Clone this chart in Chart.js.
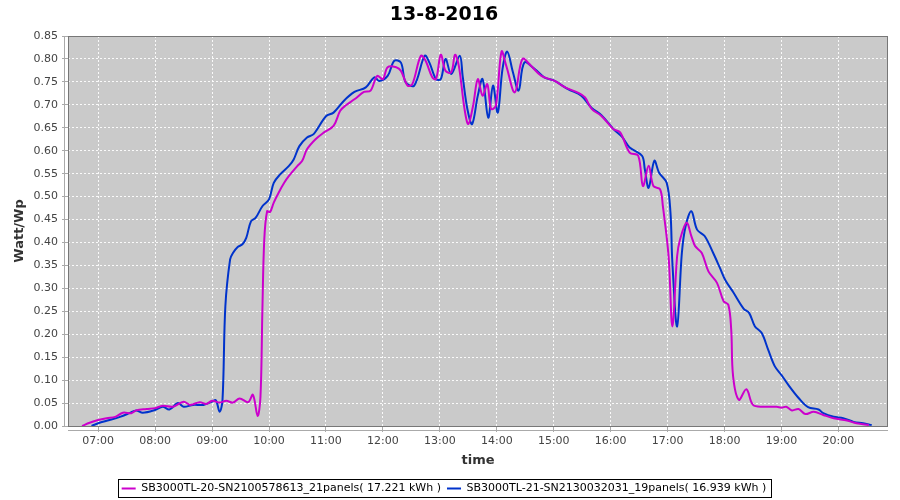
<!DOCTYPE html>
<html><head><meta charset="utf-8">
<script src="https://cdn.jsdelivr.net/npm/chart.js@4"></script>
<style>html,body{margin:0;padding:0;background:#fff}#wrap{width:900px;height:500px}</style>
</head><body><div id="wrap"><canvas id="c" width="900" height="500"></canvas></div>
<script>
const chartTitle = '13-8-2016';
const xTitle = 'time';
const yTitle = 'Watt/Wp';
const seriesNames = [
  'SB3000TL-20-SN2100578613_21panels( 17.221 kWh )',
  'SB3000TL-21-SN2130032031_19panels( 16.939 kWh )'
];
const seriesColors = ['#cc00cc', '#0033cc'];
const hourTicks = [7,8,9,10,11,12,13,14,15,16,17,18,19,20];
const yTickValues = [0,0.05,0.10,0.15,0.20,0.25,0.30,0.35,0.40,0.45,0.50,0.55,0.60,0.65,0.70,0.75,0.80,0.85];

const s1Times = ['06:43','06:51','07:00','07:09','07:18','07:26','07:35','07:40','07:51','08:00','08:08','08:19','08:30','08:37','08:47','08:54','09:00','09:08','09:15','09:22','09:29','09:38','09:43','09:48','09:51','09:53','09:55','09:58','10:01','10:05','10:10','10:16','10:21','10:30','10:35','10:40','10:49','10:58','11:08','11:15','11:21','11:30','11:40','11:47','11:54','12:00','12:05','12:14','12:19','12:26','12:31','12:40','12:45','12:52','12:56','13:01','13:06','13:12','13:16','13:20','13:26','13:30','13:35','13:40','13:45','13:50','13:54','13:59','14:05','14:10','14:19','14:27','14:36','14:47','15:01','15:12','15:26','15:33','15:40','15:50','16:03','16:10','16:20','16:29','16:34','16:40','16:45','16:52','16:55','17:01','17:05','17:10','17:13','17:20','17:25','17:29','17:36','17:43','17:52','17:59','18:04','18:07','18:09','18:15','18:23','18:30','18:41','18:55','19:00','19:05','19:11','19:18','19:25','19:34','19:44','19:55','20:09','20:19','20:32'];
const s1Values = [0.000,0.007,0.013,0.017,0.020,0.029,0.028,0.034,0.037,0.039,0.044,0.042,0.053,0.046,0.052,0.048,0.055,0.051,0.055,0.051,0.060,0.052,0.068,0.022,0.064,0.250,0.406,0.468,0.466,0.487,0.508,0.530,0.545,0.567,0.578,0.603,0.625,0.640,0.654,0.687,0.699,0.712,0.728,0.731,0.763,0.756,0.782,0.782,0.774,0.742,0.745,0.807,0.796,0.760,0.756,0.809,0.774,0.771,0.809,0.785,0.691,0.658,0.698,0.756,0.720,0.745,0.691,0.698,0.816,0.785,0.727,0.800,0.785,0.763,0.752,0.738,0.726,0.716,0.691,0.676,0.647,0.640,0.596,0.589,0.523,0.567,0.523,0.516,0.479,0.370,0.217,0.370,0.406,0.443,0.414,0.392,0.377,0.337,0.312,0.272,0.264,0.210,0.108,0.057,0.080,0.046,0.042,0.042,0.040,0.042,0.034,0.037,0.026,0.031,0.024,0.017,0.012,0.006,0.002];

const s2Times = ['06:53','07:00','07:12','07:23','07:33','07:40','07:47','08:00','08:08','08:15','08:24','08:30','08:40','08:51','09:00','09:04','09:08','09:11','09:14','09:19','09:22','09:27','09:32','09:36','09:41','09:46','09:53','10:00','10:05','10:12','10:21','10:26','10:32','10:40','10:47','11:00','11:08','11:19','11:30','11:42','11:51','11:56','12:05','12:12','12:19','12:24','12:33','12:44','12:49','12:56','13:01','13:06','13:12','13:21','13:24','13:29','13:34','13:40','13:45','13:51','13:56','14:01','14:06','14:11','14:17','14:23','14:29','14:40','14:50','15:01','15:15','15:29','15:40','15:50','16:03','16:12','16:20','16:33','16:36','16:40','16:46','16:51','16:59','17:03','17:05','17:10','17:15','17:19','17:25','17:31','17:39','17:48','17:55','18:01','18:09','18:20','18:26','18:32','18:39','18:46','18:53','19:00','19:07','19:18','19:28','19:39','19:44','19:55','20:05','20:16','20:26','20:35'];
const s2Values = [0.000,0.006,0.013,0.020,0.028,0.034,0.029,0.035,0.042,0.036,0.050,0.042,0.046,0.046,0.053,0.056,0.031,0.057,0.261,0.363,0.377,0.390,0.396,0.410,0.446,0.454,0.479,0.494,0.530,0.549,0.567,0.581,0.610,0.629,0.636,0.675,0.683,0.709,0.728,0.738,0.760,0.752,0.763,0.796,0.792,0.749,0.742,0.807,0.792,0.756,0.756,0.800,0.767,0.807,0.763,0.691,0.658,0.720,0.756,0.672,0.742,0.683,0.778,0.816,0.771,0.731,0.792,0.778,0.760,0.752,0.734,0.720,0.693,0.678,0.647,0.630,0.607,0.589,0.559,0.519,0.578,0.552,0.530,0.465,0.356,0.217,0.377,0.436,0.468,0.428,0.414,0.377,0.345,0.317,0.292,0.256,0.246,0.217,0.203,0.166,0.130,0.111,0.090,0.061,0.041,0.036,0.028,0.020,0.017,0.009,0.006,0.002];

function toHours(s){ const p = s.split(':'); return +p[0] + (+p[1])/60; }
function pts(times, vals){ return times.map((t,i)=>({x: toHours(t), y: vals[i]})); }

const FONT = "'DejaVu Sans', sans-serif";

const framePlugin = {
  id: 'frame',
  beforeDraw(chart){
    const {ctx, chartArea:a} = chart;
    ctx.save();
    ctx.fillStyle = '#cacaca';
    ctx.fillRect(a.left, a.top, a.right - a.left, a.bottom - a.top);
    ctx.restore();
  },
  beforeDatasetsDraw(chart){
    const {ctx, chartArea:a} = chart;
    ctx.save();
    ctx.strokeStyle = '#777';
    ctx.lineWidth = 1;
    ctx.strokeRect(a.left + 0.5, a.top + 0.5, a.right - a.left - 1, a.bottom - a.top);
    ctx.strokeStyle = '#aaa';
    ctx.beginPath();
    ctx.moveTo(a.left - 3.5, a.top); ctx.lineTo(a.left - 3.5, a.bottom);
    ctx.moveTo(a.left, a.bottom + 4.5); ctx.lineTo(a.right, a.bottom + 4.5);
    ctx.stroke();
    ctx.restore();
  },
  afterDraw(chart){
    const lg = chart.legend;
    const hb = lg && lg.legendHitBoxes;
    if (!hb || !hb.length) return;
    const l = Math.min(...hb.map(b=>b.left));
    const r = Math.max(...hb.map(b=>b.left + b.width));
    const t = Math.min(...hb.map(b=>b.top));
    const bt = Math.max(...hb.map(b=>b.top + b.height));
    const ctx = chart.ctx;
    ctx.save();
    ctx.strokeStyle = '#000';
    ctx.lineWidth = 1;
    ctx.strokeRect(Math.round(l - 4) + 0.5, Math.round(t - 4) + 0.5, Math.round(r - l + 8), Math.round(bt - t + 7));
    ctx.restore();
  }
};

const gridOpts = { color: 'rgba(255,255,255,0.9)', lineWidth: 1, tickLength: 6, tickColor: '#aaa', tickBorderDash: [] };

new Chart(document.getElementById('c'), {
  type: 'line',
  data: {
    datasets: [
      { label: seriesNames[0], data: pts(s1Times, s1Values), borderColor: seriesColors[0], backgroundColor: seriesColors[0], borderWidth: 2, pointRadius: 0, tension: 0.35, fill: false },
      { label: seriesNames[1], data: pts(s2Times, s2Values), borderColor: seriesColors[1], backgroundColor: seriesColors[1], borderWidth: 2, pointRadius: 0, tension: 0.35, fill: false }
    ]
  },
  options: {
    responsive: false,
    animation: false,
    devicePixelRatio: 1,
    layout: { padding: { top: 0, right: 12, bottom: -4, left: 0 } },
    plugins: {
      title: { display: true, text: chartTitle, color: '#000', font: { family: FONT, size: 19, weight: 'bold' }, padding: { top: 3.5, bottom: 9.7 } },
      legend: { position: 'bottom', labels: { font: { family: FONT, size: 11 }, color: '#000', usePointStyle: true, pointStyle: 'line', pointStyleWidth: 14, padding: 6 } },
      tooltip: { enabled: false }
    },
    scales: {
      x: {
        type: 'linear', min: 6.47, max: 20.87,
        afterBuildTicks: s => { s.ticks = hourTicks.map(v => ({ value: v })); },
        afterFit: s => { s.height = 51; },
        ticks: { autoSkip: false, maxRotation: 0, padding: 3, color: '#444', font: { family: FONT, size: 11 }, callback: v => String(v).padStart(2,'0') + ':00' },
        grid: gridOpts,
        border: { display: false, dash: [2,2] },
        title: { display: true, text: xTitle, color: '#333', font: { family: FONT, size: 13, weight: 'bold' }, padding: { top: 9, bottom: 9 } }
      },
      y: {
        type: 'linear', min: 0, max: 0.85,
        afterBuildTicks: s => { s.ticks = yTickValues.map(v => ({ value: v })); },
        afterFit: s => { s.width = 68; },
        ticks: { padding: 4, color: '#444', font: { family: FONT, size: 11 }, callback: v => v.toFixed(2) },
        grid: gridOpts,
        border: { display: false, dash: [2,2] },
        title: { display: true, text: yTitle, color: '#333', font: { family: FONT, size: 13, weight: 'bold' }, padding: { top: 12, bottom: 12 } }
      }
    }
  },
  plugins: [framePlugin]
});
</script>
</body></html>
